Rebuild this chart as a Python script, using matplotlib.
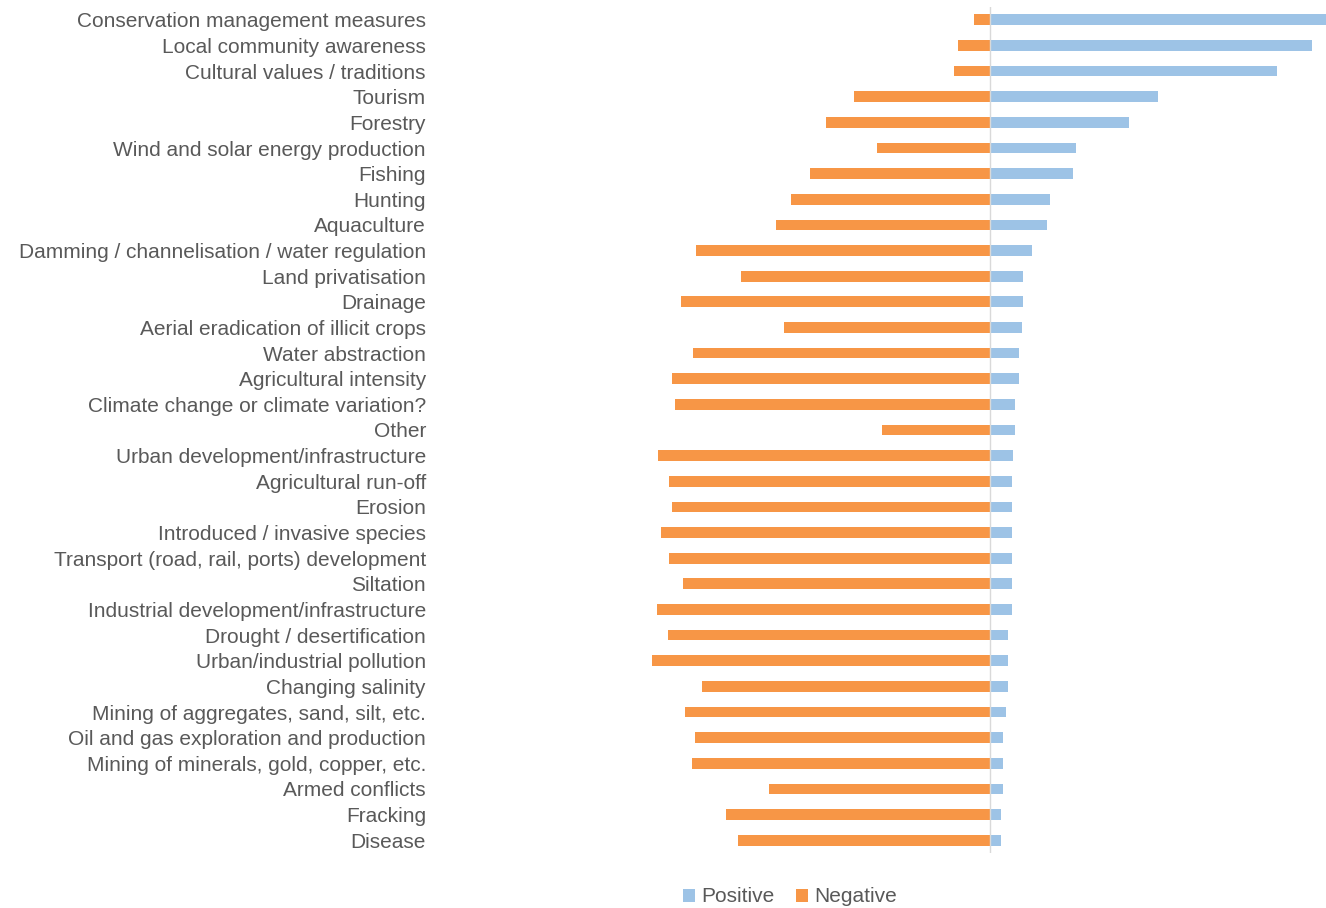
import matplotlib.pyplot as plt
import numpy as np

# categories top to bottom
categories = [
    "Conservation management measures", "Local community awareness",
    "Cultural values / traditions", "Tourism", "Forestry",
    "Wind and solar energy production", "Fishing", "Hunting", "Aquaculture",
    "Damming / channelisation / water regulation", "Land privatisation",
    "Drainage", "Aerial eradication of illicit crops", "Water abstraction",
    "Agricultural intensity", "Climate change or climate variation?", "Other",
    "Urban development/infrastructure", "Agricultural run-off", "Erosion",
    "Introduced / invasive species", "Transport (road, rail, ports) development",
    "Siltation", "Industrial development/infrastructure",
    "Drought / desertification", "Urban/industrial pollution",
    "Changing salinity", "Mining of aggregates, sand, silt, etc.",
    "Oil and gas exploration and production",
    "Mining of minerals, gold, copper, etc.", "Armed conflicts", "Fracking",
    "Disease",
]
positive = [336, 322, 287, 168, 139, 86, 83, 60, 57, 42, 33, 33, 32, 29, 29,
            25, 25, 23, 22, 22, 22, 22, 22, 22, 18, 18, 18, 16, 13, 13, 13,
            11, 11]
negative = [16, 32, 36, 137, 165, 114, 181, 200, 215, 295, 250, 310, 207, 298,
            319, 316, 109, 333, 322, 319, 330, 322, 308, 334, 323, 339, 289,
            306, 296, 299, 222, 265, 253]

fig = plt.figure(figsize=(13.26, 9.08), dpi=100)
ax = fig.add_axes([437 / 1326, 1 - 853 / 908, 889 / 1326, (853 - 7) / 908])

y = np.arange(len(categories))
ax.barh(y, positive, height=0.42, color='#9DC3E6', label='Positive')
ax.barh(y, [-v for v in negative], height=0.42, color='#F79646', label='Negative')
ax.axvline(0, color='#D9D9D9', lw=1)

ax.set_xlim(-554, 336)
ax.set_ylim(len(categories) - 0.5, -0.5)
ax.set_yticks(y)
ax.set_yticklabels(categories, fontsize=15, color='#595959', family='Liberation Sans')
ax.tick_params(axis='y', length=0, pad=8)
ax.set_xticks([])
for s in ax.spines.values():
    s.set_visible(False)

fig.legend(loc='center', bbox_to_anchor=(790 / 1326, 1 - 897 / 908), ncol=2,
           frameon=False, handlelength=0.6, handleheight=0.6, handletextpad=0.3,
           columnspacing=1.0, prop={'family': 'Liberation Sans', 'size': 15},
           labelcolor='#595959')

fig.savefig('out.png', dpi=100)
